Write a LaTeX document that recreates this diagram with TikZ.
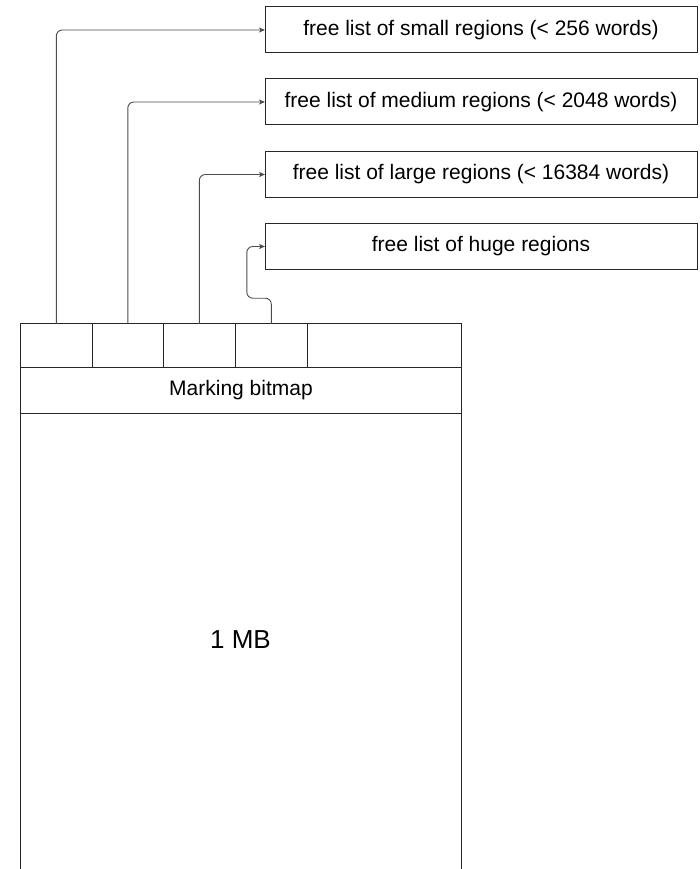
\documentclass[tikz,border=0pt]{standalone}
\usepackage{fontspec}
\setmainfont{Liberation Sans}
\usetikzlibrary{arrows.meta}

\tikzset{
  frame/.style={draw=black!85, line width=1pt, inner sep=0pt, outer sep=0pt},
  listbox/.style={frame, minimum width=432pt, minimum height=46pt,
    font=\fontsize{21}{25}\selectfont},
  cellbox/.style={frame, anchor=north west, minimum height=44pt},
  link/.style={draw=black!70, line width=0.9pt, rounded corners=6pt,
    -{Stealth[length=6pt,width=5pt,inset=1.5pt]}},
}

\begin{document}
\begin{tikzpicture}[x=1pt,y=-1pt]
\useasboundingbox[fill=white] (0,0) rectangle (700,869);

% free lists
\node[listbox] (fl1) at (481,30)    {free list of small regions (< 256 words)};
\node[listbox] (fl2) at (481,102)   {free list of medium regions (< 2048 words)};
\node[listbox] (fl3) at (481,174.5) {free list of large regions (< 16384 words)};
\node[listbox] (fl4) at (481,246.5) {free list of huge regions};

% header cells of the 1 MB block
\node[cellbox, minimum width=72pt]    (c1) at (20.3,323.7)  {};
\node[cellbox, minimum width=71pt]    (c2) at (92.3,323.7)  {};
\node[cellbox, minimum width=72pt]    (c3) at (163.3,323.7) {};
\node[cellbox, minimum width=72pt]    (c4) at (235.3,323.7) {};
\node[cellbox, minimum width=154.4pt] (c5) at (307.3,323.7) {};

% marking bitmap row
\node[frame, anchor=north west, minimum width=441.4pt, minimum height=45.3pt,
  font=\fontsize{21}{25}\selectfont] (bm) at (20.3,367.7) {Marking bitmap};

% block body, open at the bottom
\coordinate (bl) at (20.3,870);
\coordinate (br) at (461.7,870);
\draw[black!85, line width=1pt] (bl) -- (bm.south west) -- (bm.south east) -- (br);
\node[font=\fontsize{26}{30}\selectfont] (mb) at (240.5,640) {1 MB};

% pointers to the free lists
\draw[link] (c1.north) |- (fl1.west);
\draw[link] (c2.north) |- (fl2.west);
\draw[link] (c3.north) |- (fl3.west);
\draw[link] (c4.north) -- ++(0,-25.5) -- ++(-24.5,0) |- (fl4.west);
\end{tikzpicture}
\end{document}
